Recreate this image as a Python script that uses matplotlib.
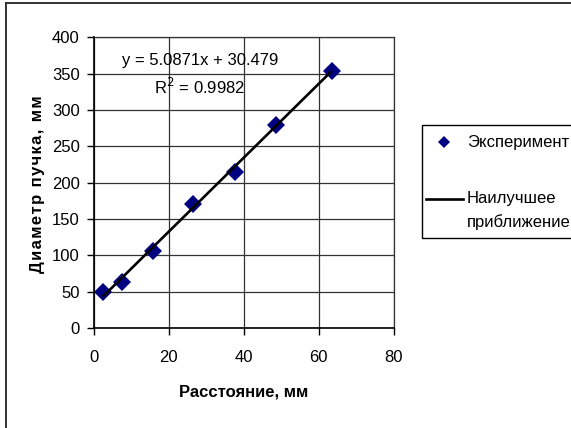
import numpy as np
import matplotlib
matplotlib.use("Agg")
import matplotlib.pyplot as plt
from matplotlib.lines import Line2D
from matplotlib.patches import Rectangle

# data
distance = [2.45, 7.7, 15.9, 26.6, 37.7, 48.7, 63.5]
diameter = [50, 63.6, 106, 170.6, 214, 279, 354]
slope = 5.0871
intercept = 30.479
r2 = 0.9982

x_ticks = [0, 20, 40, 60, 80]
y_ticks = [0, 50, 100, 150, 200, 250, 300, 350, 400]

plt.rcParams['font.family'] = ['Liberation Sans', 'DejaVu Sans']
FS = 12

fig = plt.figure(figsize=(5.71, 4.28), dpi=100)
ax = fig.add_axes([93.5 / 571, 1 - 328 / 428, 300 / 571, 290.7 / 428])

# fit line over the range of the data
xf = np.array([min(distance), max(distance)])
ax.plot(xf, slope * xf + intercept, color='black', lw=1.9, zorder=3,
        solid_capstyle='butt')
ax.plot(distance, diameter, 'D', color='#000080', ms=9, mew=0, zorder=2)

ax.set_xlim(0, 80)
ax.set_ylim(0, 400)
ax.set_xticks(x_ticks)
ax.set_yticks(y_ticks)
ax.grid(True, color='#333333', lw=0.9)
ax.set_axisbelow(True)
ax.tick_params(direction='out', length=5, width=1, labelsize=FS)
ax.tick_params(axis='y', pad=5)
ax.tick_params(axis='x', pad=11)
for s in ['top', 'right']:
    ax.spines[s].set_color('#333333')
    ax.spines[s].set_linewidth(0.9)
for s in ['left', 'bottom']:
    ax.spines[s].set_linewidth(1.2)

# x label and spaced-out y label, placed in pixels
fig.text(244 / 571, 1 - 392 / 428, 'Расстояние, мм', fontsize=FS,
         fontweight='bold', ha='center', va='center')
ylab = '\u200a'.join('Диаметр пучка, мм')
fig.text(38 / 571, 1 - 184 / 428, ylab, fontsize=FS, fontweight='bold',
         rotation=90, ha='center', va='center')

eq = 'y = %.4fx + %.3f' % (slope, intercept)
fig.text(200 / 571, 1 - 61 / 428, eq, fontsize=FS, ha='center', va='center')
fig.text(200 / 571, 1 - 87 / 428, 'R$^2$ = %.4f' % r2, fontsize=FS,
         ha='center', va='center')

# legend box
fig.patches.append(Rectangle((422 / 571, 1 - 238 / 428), 160 / 571, 113 / 428,
                             transform=fig.transFigure, fill=False,
                             edgecolor='black', lw=1.0))
fig.add_artist(Line2D([444 / 571], [1 - 142 / 428], marker='D',
                      color='#000080', ms=6, mew=0, transform=fig.transFigure))
fig.text(467 / 571, 1 - 142 / 428, 'Эксперимент', fontsize=FS, va='center')
fig.add_artist(Line2D([426 / 571, 463 / 571], [1 - 199 / 428] * 2,
                      color='black', lw=1.9, transform=fig.transFigure))
fig.text(467 / 571, 1 - 199 / 428, 'Наилучшее', fontsize=FS, va='center')
fig.text(467 / 571, 1 - 222 / 428, 'приближение', fontsize=FS, va='center')

# chart area frame (top and left edges visible)
fig.add_artist(Line2D([5.5 / 571, 5.5 / 571], [0, 1 - 2.5 / 428],
                      color='#333333', lw=1.4, transform=fig.transFigure))
fig.add_artist(Line2D([5.5 / 571, 1], [1 - 2.5 / 428] * 2,
                      color='#333333', lw=1.4, transform=fig.transFigure))

fig.savefig('out.png', dpi=100)
